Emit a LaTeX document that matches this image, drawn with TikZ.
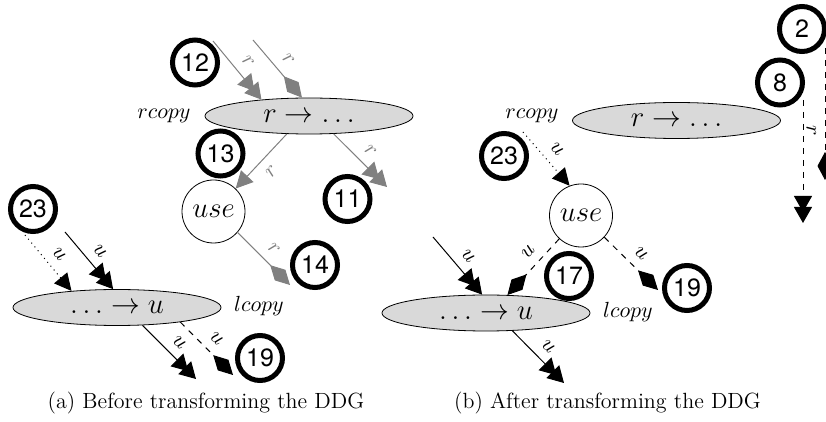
\documentclass[tikz,border=0pt]{standalone}
\usepackage{fontspec}
\newfontfamily\numfont{TeX Gyre Heros}
\usetikzlibrary{arrows.meta, shapes.geometric}

\definecolor{DDGfill}{HTML}{D9D9D9}
\definecolor{DDGgray}{HTML}{808080}

\begin{document}
\begin{tikzpicture}[x=0.5pt, y=-0.5pt,
      copynode/.style={ellipse, draw, fill=DDGfill, minimum width=104pt, minimum height=18pt, inner sep=0pt, font=\Large},
      usenode/.style={circle, draw, minimum size=31.5pt, inner sep=0pt, font=\Large},
      numnode/.style={circle, draw, line width=2.5pt, minimum size=22.5pt, inner sep=0pt, font=\numfont\fontsize{12.5}{12.5}\selectfont},
      side/.style={font=\fontsize{11}{13}\selectfont},
      lbl/.style={midway, sloped, above, inner sep=4.5pt, font=\fontsize{10.5}{12}\selectfont},
      conn/.style={line width=0.5pt},
      dbl/.style={-{Triangle[length=8pt,width=9pt,sep=-2.5pt]Triangle[length=8pt,width=9pt]}},
      sgl/.style={-{Triangle[length=8.5pt,width=8.5pt]}},
      dia/.style={-{Diamond[length=14pt,width=7.5pt]}}]
      \useasboundingbox (0,0) rectangle (826,422);
      % (a) Before: copy nodes and use
      \node[copynode] (rcopyA) at (309,116) {$r \rightarrow \ldots$};
      \node[side] (rcopyLblA) at (164,116) {$rcopy$};
      \node[usenode] (useA) at (213.5,211.5) {$use$};
      \node[copynode] (lcopyA) at (117,307.5) {$\ldots \rightarrow u$};
      \node[side] (lcopyLblA) at (259,306) {$lcopy$};
      % (a) numbered marks
      \node[numnode] (n12) at (195,62.5) {12};
      \node[numnode] (n13) at (220.5,153.5) {13};
      \node[numnode] (n11) at (347.5,199) {11};
      \node[numnode] (n14) at (315,265) {14};
      \node[numnode] (n23a) at (33,209) {23};
      \node[numnode] (n19a) at (260,358) {19};
      % (a) free ends
      \coordinate (rInA) at (213,41);
      \coordinate (rInB) at (253,40);
      \coordinate (rOutA) at (387,187);
      \coordinate (rUseOut) at (290,285);
      \coordinate (uInA) at (25,235);
      \coordinate (uInB) at (65,232);
      \coordinate (uOutA) at (196,379);
      \coordinate (uOutB) at (233,375);
      % (a) r edges (gray)
      \draw[conn, DDGgray, dbl] (rInA) -- (rcopyA.161) node[lbl] {$r$};
      \draw[conn, DDGgray, dia] (rInB) -- (rcopyA.111) node[lbl] {$r$};
      \draw[conn, DDGgray, sgl] (rcopyA.219) -- (useA.46) node[lbl, below] {$r$};
      \draw[conn, DDGgray, dbl] (rcopyA.324) -- (rOutA) node[lbl] {$r$};
      \draw[conn, DDGgray, dia] (useA.319) -- (rUseOut) node[lbl] {$r$};
      % (a) u edges
      \draw[conn, dotted, sgl] (uInA) -- (lcopyA.160) node[lbl] {$u$};
      \draw[conn, dbl] (uInB) -- (lcopyA.102) node[lbl] {$u$};
      \draw[conn, dbl] (lcopyA.325) -- (uOutA) node[lbl] {$u$};
      \draw[conn, dashed, dia] (lcopyA.347) -- (uOutB) node[lbl] {$u$};
      % (b) After: copy nodes and use
      \node[side] (rcopyLblB) at (532,116) {$rcopy$};
      \node[copynode] (rcopyB) at (676.5,120.5) {$r \rightarrow \ldots$};
      \node[usenode] (useB) at (581,215.5) {$use$};
      \node[copynode] (lcopyB) at (486,313) {$\ldots \rightarrow u$};
      \node[side] (lcopyLblB) at (628,312) {$lcopy$};
      % (b) numbered marks
      \node[numnode] (n23b) at (504,156) {23};
      \node[numnode] (n8) at (780,82.5) {8};
      \node[numnode] (n2) at (802,29) {2};
      \node[numnode] (n17) at (569,276) {17};
      \node[numnode] (n19b) at (687,288) {19};
      % (b) free ends
      \coordinate (uSrcB) at (523,132);
      \coordinate (uInC) at (433,237);
      \coordinate (uOutC) at (564,383);
      \coordinate (uUseOut) at (658,290);
      \coordinate (rTopA) at (803,100);
      \coordinate (rBotA) at (803,223);
      \coordinate (rTopB) at (825,48);
      \coordinate (rBotB) at (825,180);
      % (b) edges
      \draw[conn, dotted, sgl] (uSrcB) -- (useB.111) node[lbl] {$u$};
      \draw[conn, dbl] (uInC) -- (lcopyB.102) node[lbl] {$u$};
      \draw[conn, dashed, dia] (useB.227) -- (lcopyB.40) node[lbl, pos=0.4] {$u$};
      \draw[conn, dashed, dia] (useB.317) -- (uUseOut) node[lbl] {$u$};
      \draw[conn, dbl] (lcopyB.326) -- (uOutC) node[lbl] {$u$};
      \draw[conn, dashed, dbl] (rTopA) -- (rBotA) node[lbl, pos=0.25, inner sep=1.5pt] {$r$};
      \draw[conn, dashed, dia] (rTopB) -- (rBotB);
      % Captions
      \node[side] (capA) at (206,403) {(a) Before transforming the DDG};
      \node[side] (capB) at (607.5,403) {(b) After transforming the DDG};
\end{tikzpicture}
\end{document}
